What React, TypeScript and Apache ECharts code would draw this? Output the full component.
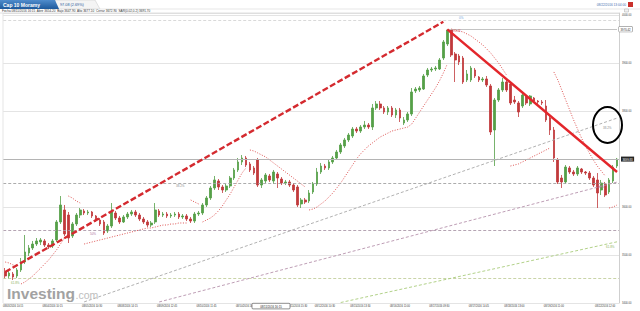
import React, { useEffect, useRef } from "react";
import * as echarts from "echarts";

// 15-minute bars: [open, close, low, high]
const candles: number[][] = [
  [3464.6, 3456.3, 3450.0, 3472.9], [3456.3, 3462.5, 3450.0, 3466.7], [3460.4, 3454.2, 3447.9, 3464.6], [3456.3, 3468.8, 3452.1, 3472.9],
  [3468.8, 3485.4, 3464.6, 3493.8], [3485.4, 3506.3, 3481.3, 3541.7], [3504.2, 3514.6, 3497.9, 3520.8], [3514.6, 3522.9, 3510.4, 3529.2],
  [3522.9, 3529.2, 3518.8, 3535.4], [3527.1, 3531.3, 3520.8, 3535.4], [3529.2, 3520.8, 3516.7, 3533.3], [3520.8, 3516.7, 3512.5, 3525.0],
  [3518.8, 3529.2, 3514.6, 3533.3], [3531.3, 3568.8, 3527.1, 3572.9], [3568.8, 3604.2, 3564.6, 3622.9], [3593.8, 3543.8, 3539.6, 3604.2],
  [3583.3, 3535.4, 3525.0, 3589.6], [3539.6, 3564.6, 3535.4, 3568.8], [3564.6, 3583.3, 3560.4, 3587.5], [3583.3, 3593.8, 3577.1, 3597.9],
  [3591.7, 3587.5, 3583.3, 3595.8], [3587.5, 3589.6, 3583.3, 3593.8], [3589.6, 3581.3, 3577.1, 3591.7], [3581.3, 3572.9, 3568.8, 3583.3],
  [3572.9, 3564.6, 3560.4, 3577.1], [3568.8, 3545.8, 3541.7, 3572.9], [3550.0, 3560.4, 3545.8, 3564.6], [3560.4, 3589.6, 3556.3, 3608.3],
  [3587.5, 3577.1, 3572.9, 3591.7], [3577.1, 3568.8, 3564.6, 3581.3], [3568.8, 3579.2, 3566.7, 3583.3], [3579.2, 3585.4, 3575.0, 3589.6],
  [3585.4, 3589.6, 3581.3, 3593.8], [3589.6, 3583.3, 3579.2, 3593.8], [3583.3, 3575.0, 3570.8, 3587.5], [3575.0, 3568.8, 3564.6, 3579.2],
  [3568.8, 3562.5, 3558.3, 3572.9], [3562.5, 3566.7, 3558.3, 3570.8], [3568.8, 3593.8, 3564.6, 3608.3], [3591.7, 3583.3, 3579.2, 3595.8],
  [3583.3, 3585.4, 3579.2, 3589.6], [3585.4, 3581.3, 3577.1, 3589.6], [3581.3, 3583.3, 3577.1, 3587.5], [3583.3, 3585.4, 3579.2, 3589.6],
  [3585.4, 3579.2, 3575.0, 3589.6], [3579.2, 3581.3, 3575.0, 3585.4], [3581.3, 3575.0, 3570.8, 3585.4], [3575.0, 3570.8, 3566.7, 3579.2],
  [3570.8, 3585.4, 3566.7, 3589.6], [3585.4, 3587.5, 3581.3, 3591.7], [3587.5, 3604.2, 3583.3, 3608.3], [3604.2, 3618.8, 3600.0, 3622.9],
  [3618.8, 3639.6, 3614.6, 3643.8], [3639.6, 3656.3, 3635.4, 3664.6], [3654.2, 3641.7, 3635.4, 3658.3], [3641.7, 3635.4, 3629.2, 3645.8],
  [3635.4, 3643.8, 3631.3, 3647.9], [3643.8, 3660.4, 3639.6, 3664.6], [3660.4, 3677.1, 3656.3, 3681.3], [3677.1, 3693.8, 3672.9, 3702.1],
  [3693.8, 3702.1, 3687.5, 3708.3], [3702.1, 3687.5, 3683.3, 3706.3], [3689.6, 3677.1, 3672.9, 3693.8], [3681.3, 3670.8, 3666.7, 3685.4],
  [3697.9, 3645.8, 3641.7, 3702.1], [3645.8, 3656.3, 3639.6, 3660.4], [3654.2, 3666.7, 3650.0, 3670.8], [3664.6, 3656.3, 3652.1, 3668.8],
  [3654.2, 3672.9, 3647.9, 3677.1], [3668.8, 3660.4, 3639.6, 3672.9], [3658.3, 3650.0, 3645.8, 3662.5], [3650.0, 3652.1, 3645.8, 3656.3],
  [3652.1, 3645.8, 3641.7, 3656.3], [3645.8, 3635.4, 3631.3, 3650.0], [3641.7, 3604.2, 3600.0, 3645.8], [3606.3, 3614.6, 3597.9, 3618.8],
  [3614.6, 3610.4, 3606.3, 3618.8], [3612.5, 3629.2, 3608.3, 3635.4], [3631.3, 3647.9, 3627.1, 3652.1], [3647.9, 3672.9, 3643.8, 3681.3],
  [3672.9, 3685.4, 3668.8, 3691.7], [3685.4, 3681.3, 3677.1, 3689.6], [3681.3, 3693.8, 3677.1, 3697.9], [3693.8, 3702.1, 3689.6, 3706.3],
  [3702.1, 3714.6, 3697.9, 3718.8], [3714.6, 3729.2, 3710.4, 3733.3], [3727.1, 3739.6, 3722.9, 3743.8], [3739.6, 3750.0, 3735.4, 3754.2],
  [3747.9, 3762.5, 3743.8, 3766.7], [3762.5, 3758.3, 3754.2, 3766.7], [3758.3, 3766.7, 3754.2, 3770.8], [3766.7, 3770.8, 3762.5, 3779.2],
  [3770.8, 3766.7, 3762.5, 3775.0], [3766.7, 3806.3, 3760.4, 3814.6], [3806.3, 3814.6, 3802.1, 3820.8], [3814.6, 3806.3, 3802.1, 3820.8],
  [3806.3, 3797.9, 3793.8, 3810.4], [3797.9, 3806.3, 3791.7, 3810.4], [3806.3, 3791.7, 3787.5, 3810.4], [3791.7, 3802.1, 3785.4, 3806.3],
  [3802.1, 3785.4, 3777.1, 3806.3], [3775.0, 3781.3, 3770.8, 3787.5], [3781.3, 3793.8, 3777.1, 3797.9], [3793.8, 3839.6, 3789.6, 3847.9],
  [3841.7, 3845.8, 3837.5, 3850.0], [3843.8, 3847.9, 3839.6, 3852.1], [3845.8, 3872.9, 3843.8, 3877.1], [3875.0, 3885.4, 3870.8, 3889.6],
  [3885.4, 3887.5, 3881.3, 3891.7], [3887.5, 3889.6, 3883.3, 3893.8], [3887.5, 3906.3, 3885.4, 3910.4], [3910.4, 3943.8, 3906.3, 3947.9],
  [3939.6, 3968.8, 3935.4, 3970.42], [3968.8, 3916.7, 3912.5, 3970.0], [3918.8, 3906.3, 3860.4, 3922.9], [3914.6, 3902.1, 3895.8, 3918.8],
  [3910.4, 3860.4, 3856.3, 3914.6], [3864.6, 3877.1, 3860.4, 3885.4], [3864.6, 3889.6, 3860.4, 3893.8], [3885.4, 3872.9, 3868.8, 3889.6],
  [3870.8, 3864.6, 3860.4, 3872.9], [3864.6, 3866.7, 3860.4, 3870.8], [3866.7, 3854.2, 3850.0, 3872.9], [3852.1, 3756.3, 3750.0, 3856.3],
  [3760.4, 3822.9, 3685.4, 3827.1], [3822.9, 3843.8, 3818.8, 3847.9], [3843.8, 3860.4, 3839.6, 3868.8], [3860.4, 3843.8, 3839.6, 3868.8],
  [3856.3, 3816.7, 3812.5, 3860.4], [3822.9, 3818.8, 3814.6, 3831.3], [3816.7, 3797.9, 3787.5, 3820.8], [3810.4, 3833.3, 3806.3, 3839.6],
  [3829.2, 3816.7, 3812.5, 3833.3], [3814.6, 3831.3, 3810.4, 3833.3], [3827.1, 3820.8, 3816.7, 3829.2], [3820.8, 3818.8, 3814.6, 3822.9],
  [3818.8, 3816.7, 3812.5, 3822.9], [3810.4, 3781.3, 3777.1, 3822.9], [3785.4, 3760.4, 3750.0, 3789.6], [3760.4, 3702.1, 3693.8, 3766.7],
  [3697.9, 3652.1, 3647.9, 3702.1], [3660.4, 3652.1, 3639.6, 3666.7], [3652.1, 3683.3, 3647.9, 3687.5], [3681.3, 3672.9, 3668.8, 3685.4],
  [3672.9, 3668.8, 3664.6, 3677.1], [3668.8, 3681.3, 3664.6, 3685.4], [3679.2, 3672.9, 3668.8, 3681.3], [3672.9, 3670.8, 3666.7, 3675.0],
  [3670.8, 3660.4, 3656.3, 3675.0], [3660.4, 3645.8, 3641.7, 3664.6], [3656.3, 3629.2, 3597.9, 3670.8], [3635.4, 3650.0, 3625.0, 3656.3],
  [3647.9, 3625.0, 3620.8, 3652.1], [3631.3, 3656.3, 3627.1, 3660.4], [3654.2, 3683.3, 3650.0, 3687.5], [3685.4, 3699.83, 3681.3, 3702.1],
];

// Parabolic SAR (0.02, 0.2), one run per trend
const sarSegments: { side: "above" | "below"; start: number; values: number[] }[] = [
  { side: "above", start: 0, values: [3485.4, 3483.3, 3479.2, 3477.1] },
  { side: "below", start: 4, values: [3439.6, 3443.8, 3450.0, 3456.3, 3464.6, 3472.9, 3481.3, 3489.6, 3500.0, 3510.4, 3522.9, 3535.4] },
  { side: "above", start: 16, values: [3622.9, 3618.8, 3612.5, 3608.3] },
  { side: "below", start: 20, values: [3522.9, 3525.0, 3527.1, 3529.2, 3531.3, 3533.3, 3535.4, 3537.5, 3539.6, 3541.7, 3543.8, 3545.8, 3547.9, 3550.0, 3552.1, 3554.2, 3556.3, 3556.3, 3558.3, 3560.4, 3562.5, 3562.5, 3564.6, 3564.6, 3566.7, 3566.7, 3566.7] },
  { side: "above", start: 47, values: [3614.6, 3610.4, 3606.3] },
  { side: "below", start: 50, values: [3568.8, 3572.9, 3577.1, 3583.3, 3591.7, 3602.1, 3614.6, 3627.1, 3641.7, 3656.3, 3670.8, 3681.3] },
  { side: "above", start: 62, values: [3718.8, 3716.7, 3712.5, 3708.3, 3704.2, 3697.9, 3691.7, 3685.4, 3679.2, 3672.9, 3666.7, 3660.4, 3654.2, 3647.9, 3641.7] },
  { side: "below", start: 77, values: [3593.8, 3595.8, 3600.0, 3606.3, 3612.5, 3620.8, 3629.2, 3639.6, 3650.0, 3662.5, 3675.0, 3687.5, 3700.0, 3710.4, 3718.8, 3727.1, 3733.3, 3739.6, 3745.8, 3750.0, 3754.2, 3758.3, 3760.4, 3762.5, 3764.6, 3766.7, 3772.9, 3785.4, 3797.9, 3810.4, 3822.9, 3835.4, 3847.9, 3862.5, 3879.2, 3897.9] },
  { side: "above", start: 113, values: [3970.8, 3968.8, 3966.7, 3964.6, 3960.4, 3956.3, 3950.0, 3943.8, 3937.5, 3929.2, 3920.8, 3910.4, 3900.0, 3887.5, 3875.0] },
  { side: "below", start: 128, values: [3685.4, 3687.5, 3689.6, 3693.8, 3697.9, 3702.1, 3706.3, 3710.4, 3714.6, 3718.8, 3722.9] },
  { side: "above", start: 139, values: [3881.3, 3864.6, 3843.8, 3822.9, 3802.1, 3781.3, 3762.5, 3743.8, 3727.1, 3712.5, 3697.9, 3685.4, 3675.0, 3664.6] },
  { side: "below", start: 153, values: [3597.9, 3600.0, 3604.2] },
];

// date labels shown under the bars: [bar index, label]
const xTicks: [number, string][] = [
  [2, "08/03/2016 10:15"], [12, "08/04/2016 10:15"], [22, "08/05/2016 10:30"], [31, "08/08/2016 14:15"],
  [41, "08/09/2016 12:45"], [51, "08/10/2016 11:45"], [61, "08/10/2016 16:30"], [74, "08/11/2016 15:30"],
  [81, "08/12/2016 10:30"], [90, "08/15/2016 13:30"], [100, "08/16/2016 11:00"], [110, "08/17/2016 09:30"],
  [120, "08/17/2016 14:45"], [129, "08/18/2016 13:00"], [139, "08/19/2016 11:00"], [152, "08/22/2016 12:00"],
];

const instrument = "Cap 10 Moramy";
const lastPrice = 3699.83;
const change = 97.08;
const changePct = 2.69;
const peakPrice = 3970.42;
const topGuide = 3989.6;
const hoverIndex = 68;
const hoverTime = "08/11/2016 16:15";
const clockTime = "08/22/2016 13:04:00";

// Fibonacci retracement levels
const fibLevels: { name: string; value: number; color: string }[] = [
  { name: "38.2%", value: 3650.0, color: "#a3a3a3" },
  { name: "50%", value: 3551.0, color: "#ad9aaa" },
  { name: "61.8%", value: 3452.0, color: "#c3cf9e" },
];

// trend lines: [bar index, price]
const upTrend: [number, number][] = [[0, 3464.6], [111, 3985.8]];
const downTrend: [number, number][] = [[112, 3970.0], [155, 3672.9]];

// Fibonacci fan rays
const fanLines: { name: string; color: string; from: [number, number]; to: [number, number] }[] = [
  { name: "38.2%", color: "#a8a8a8", from: [20, 3402.3], to: [155, 3785.2] },
  { name: "50%", color: "#b793ad", from: [39, 3402.1], to: [155, 3651.9] },
  { name: "61.8%", color: "#a9cc7c", from: [85, 3401.0], to: [155, 3527.5] },
];

const FONT = '"Liberation Sans", Arial, sans-serif';

export default function App() {
  const ref = useRef<HTMLDivElement>(null);

  useEffect(() => {
    document.body.style.margin = "0";
    const chart = echarts.init(ref.current!, null, { renderer: "svg", width: 640, height: 311 });

    const categories = candles.map((_, i) => String(i));
    const tickMap = new Map<number, string>(xTicks);

    const sarAbove: (number | null)[] = candles.map(() => null);
    const sarBelow: (number | null)[] = candles.map(() => null);
    sarSegments.forEach((seg) => {
      const target = seg.side === "above" ? sarAbove : sarBelow;
      seg.values.forEach((v, k) => (target[seg.start + k] = v));
    });

    const hover = candles[hoverIndex];
    const hoverSar = sarAbove[hoverIndex] ?? sarBelow[hoverIndex];
    const infoLine =
      `Fecha ${hoverTime}  Abrir ${hover[0].toFixed(2)}  Bajo ${hover[2].toFixed(2)}  Alto ${hover[3].toFixed(2)}  ` +
      `Cerrar ${hover[1].toFixed(2)}  SAR(0.02,0.2) ${(hoverSar as number).toFixed(2)}`;

    const markLines: any[] = [
      { yAxis: topGuide, lineStyle: { color: "#cfcfcf", type: [3, 2], width: 0.8 } },
      ...fibLevels.map((f) => ({ yAxis: f.value, lineStyle: { color: f.color, type: [3, 2], width: 0.9 } })),
      {
        yAxis: lastPrice,
        lineStyle: { color: "#b4b4b4", type: "solid", width: 1 },
        label: {
          show: true, position: "end", distance: 2, formatter: lastPrice.toFixed(2),
          backgroundColor: "#262626", color: "#fff", fontSize: 2.8, padding: [1, 1.5], fontFamily: FONT,
        },
      },
      [
        {
          coord: [112, peakPrice],
          lineStyle: { color: "#c4c4c4", type: "solid", width: 1 },
          label: {
            show: true, position: "end", distance: 2, formatter: peakPrice.toFixed(2),
            backgroundColor: "#fff", borderColor: "#777", borderWidth: 0.5, color: "#333",
            fontSize: 2.8, padding: [1, 1.5], fontFamily: FONT,
          },
        },
        { coord: [155, peakPrice] },
      ],
      ...fanLines.map((f) => [
        { coord: f.from, lineStyle: { color: f.color, type: [3, 2], width: 0.9 } },
        { coord: f.to },
      ]),
      [{ coord: upTrend[0], lineStyle: { color: "#d42a2f", type: [6, 2.5], width: 2.4 } }, { coord: upTrend[1] }],
      [{ coord: downTrend[0], lineStyle: { color: "#e3262b", type: "solid", width: 2.4 } }, { coord: downTrend[1] }],
    ];

    const smallText = (text: string, x: number, y: number, fill: string, size = 3.2, align = "left") => ({
      type: "text", x, y, z: 50,
      style: { text, fill, fontSize: size, fontFamily: FONT, align, verticalAlign: "middle" },
    });

    const option: any = {
      animation: false,
      backgroundColor: "#ffffff",
      textStyle: { fontFamily: FONT },
      grid: { left: 3, right: 21, top: 13, bottom: 8 },
      xAxis: {
        type: "category",
        data: categories,
        boundaryGap: true,
        axisLine: { show: false },
        axisTick: { show: false },
        splitLine: { show: false },
        axisLabel: {
          interval: (i: number) => tickMap.has(i),
          formatter: (_v: string, i: number) => tickMap.get(i) ?? "",
          fontSize: 2.6, color: "#333", margin: 2, fontFamily: FONT,
        },
      },
      yAxis: {
        type: "value",
        position: "right",
        min: 3400,
        max: 4004.17,
        interval: 100,
        axisLine: { show: true, lineStyle: { color: "#cfcfcf", width: 1 } },
        axisTick: { show: false },
        splitLine: { lineStyle: { color: "#e4e4e4", width: 1 } },
        axisLabel: {
          formatter: (v: number) => v.toFixed(2),
          fontSize: 2.6, color: "#444", margin: 3, showMaxLabel: false, fontFamily: FONT,
        },
      },
      series: [
        {
          type: "candlestick",
          data: candles,
          barWidth: 2.2,
          itemStyle: {
            color: "#55a047", color0: "#c0393b",
            borderColor: "#55a047", borderColor0: "#c0393b", borderWidth: 0.8,
          },
          markLine: { silent: true, symbol: ["none", "none"], label: { show: false }, data: markLines },
          z: 3,
        },
        {
          type: "line", data: sarAbove, showSymbol: false, connectNulls: false, silent: true, z: 4,
          lineStyle: { color: "#d9413f", width: 0.9, type: [1, 1.6] },
        },
        {
          type: "line", data: sarBelow, showSymbol: false, connectNulls: false, silent: true, z: 4,
          lineStyle: { color: "#d9413f", width: 0.9, type: [1, 1.6] },
        },
      ],
      graphic: [
        // header tabs
        {
          type: "polygon", z: 40,
          shape: { points: [[55, 0], [95, 0], [100, 9], [55, 9]] },
          style: { fill: "#f4f4f4", stroke: "#c9c9c9", lineWidth: 0.5 },
        },
        {
          type: "polygon", z: 41,
          shape: { points: [[0, 0], [55, 0], [59, 9], [0, 9]] },
          style: {
            fill: new echarts.graphic.LinearGradient(0, 0, 0, 1, [
              { offset: 0, color: "#4f8ccc" },
              { offset: 1, color: "#1e5a9c" },
            ]),
          },
        },
        {
          type: "text", x: 3, y: 4.7, z: 42,
          style: { text: instrument, fill: "#ffffff", fontSize: 5, fontWeight: "bold", fontFamily: FONT, verticalAlign: "middle" },
        },
        smallText(`${change.toFixed(2)} (${changePct.toFixed(2)}%)`, 60, 4.7, "#2a5a9a", 3.8),
        { type: "line", z: 40, shape: { x1: 100, y1: 9, x2: 640, y2: 9 }, style: { stroke: "#d6d6d6", lineWidth: 0.6 } },
        smallText(clockTime, 626, 4.5, "#3f6fb0", 3.2, "right"),
        { type: "rect", z: 42, shape: { x: 628, y: 2, width: 5, height: 5 }, style: { fill: "#c9302c" } },
        { type: "rect", z: 42, shape: { x: 624.5, y: 9, width: 4, height: 3 }, style: { fill: "#f2f2f2", stroke: "#999", lineWidth: 0.4 } },
        smallText(infoLine, 2, 11, "#333", 3.1),
        // plot frame
        { type: "line", z: 40, shape: { x1: 0, y1: 13, x2: 619, y2: 13 }, style: { stroke: "#d8d8d8", lineWidth: 0.8 } },
        { type: "line", z: 40, shape: { x1: 3, y1: 13, x2: 3, y2: 303 }, style: { stroke: "#dedede", lineWidth: 0.8 } },
        // watermark
        {
          type: "text", x: 7, y: 293.4, z: 1,
          style: { text: "Investing", fill: "#a2a2a2", fontSize: 15.5, fontWeight: "bold", fontFamily: FONT, verticalAlign: "middle" },
        },
        {
          type: "text", x: 75.5, y: 294.8, z: 1,
          style: { text: ".com", fill: "#bdbdbd", fontSize: 10.5, fontFamily: FONT, verticalAlign: "middle" },
        },
        // Fibonacci labels
        smallText("0%", 459, 17.5, "#6fa3d8", 3),
        smallText(peakPrice.toFixed(2), 451, 31, "#d04a4a", 2.6),
        smallText(fibLevels[0].name, 176, 186, "#8c8c8c", 3),
        smallText(fibLevels[1].name, 90, 234, "#b0709c", 3),
        smallText(fibLevels[2].name, 11, 283, "#8db35a", 3),
        smallText(fanLines[0].name, 603, 128, "#8c8c8c", 3),
        smallText(fanLines[1].name, 598, 187, "#b0709c", 3),
        smallText(fanLines[2].name, 606, 247, "#8db35a", 3),
        // hovered bar time
        {
          type: "rect", z: 45,
          shape: { x: 252, y: 303.3, width: 38, height: 5.6, r: 1 },
          style: { fill: "#ffffff", stroke: "#444", lineWidth: 0.6 },
        },
        smallText(hoverTime, 271, 306.2, "#222", 2.8, "center"),
        // highlighted area
        {
          type: "ellipse", z: 60,
          shape: { cx: 607.5, cy: 125, rx: 14.5, ry: 18 },
          style: { fill: "none", stroke: "#000", lineWidth: 2 },
        },
      ],
    };

    chart.setOption(option);
    return () => chart.dispose();
  }, []);

  return <div ref={ref} style={{ position: "absolute", left: 0, top: 0, width: 640, height: 311, background: "#fff" }} />;
}
